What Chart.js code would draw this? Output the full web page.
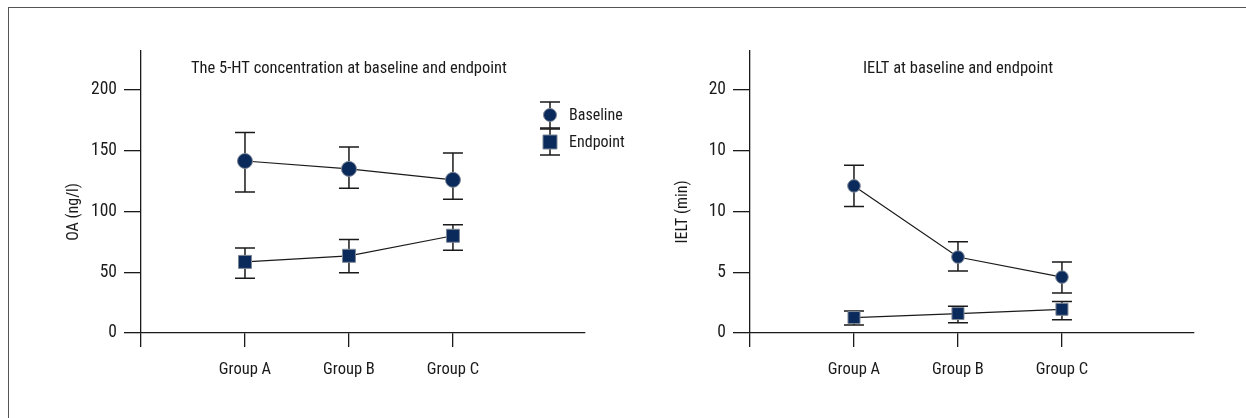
<!DOCTYPE html>
<html>
<head>
<meta charset="utf-8">
<script src="https://cdn.jsdelivr.net/npm/chart.js@4"></script>
<style>
    html, body { margin: 0; padding: 0; background: #fff; }
    #wrap { position: relative; width: 1246px; height: 418px; overflow: hidden; }
    #frame { position: absolute; left: 8px; top: 7px; width: 1400px; height: 600px;
             border-left: 1px solid #555; border-top: 1px solid #555; }
    .box { position: absolute; top: 0; height: 418px; }
</style>
</head>
<body>
<div id="wrap">
    <div id="frame"></div>
    <div class="box" style="left:0;width:650px"><canvas id="grafico5ht" width="650" height="418"></canvas></div>
    <div class="box" style="left:650px;width:596px"><canvas id="graficoIelt" width="596" height="418"></canvas></div>
</div>
<script>
// categorias e posições no eixo x
const categories = ['Group A', 'Group B', 'Group C'];
const groupPos = [1, 2, 3];

// 5-HT (ng/l)
const htBaseline = [141.5, 135, 126];
const htBaselineLow = [116, 119, 110];
const htBaselineHigh = [165, 153, 148];
const htEndpoint = [58.5, 63.5, 80];
const htEndpointLow = [45, 49.5, 68];
const htEndpointHigh = [70, 77, 89];
const htTicks = [0, 50, 100, 150, 200];
const htTickLabels = ['0', '50', '100', '150', '200'];

// IELT (min)
const ieltBaseline = [12.1, 6.25, 4.6];
const ieltBaselineLow = [10.4, 5.1, 3.3];
const ieltBaselineHigh = [13.8, 7.5, 5.85];
const ieltEndpoint = [1.27, 1.6, 1.95];
const ieltEndpointLow = [0.65, 0.85, 1.1];
const ieltEndpointHigh = [1.8, 2.2, 2.6];
const ieltTicks = [0, 5, 10, 15, 20];
const ieltTickLabels = ['0', '5', '10', '10', '20'];

const FONT = "'Roboto Condensed', 'DejaVu Sans Condensed', sans-serif";
const INK = '#1a1a1a';
const NAVY = '#0b2a5c';
const EDGE = '#7d8796';

// barras de erro desenhadas antes dos pontos
const errorBars = {
    id: 'errorBars',
    beforeDatasetsDraw(chart) {
        const ctx = chart.ctx;
        const y = chart.scales.y;
        chart.data.datasets.forEach((ds, i) => {
            chart.getDatasetMeta(i).data.forEach((pt, j) => {
                const top = y.getPixelForValue(ds.errHigh[j]);
                const bot = y.getPixelForValue(ds.errLow[j]);
                ctx.save();
                ctx.strokeStyle = INK;
                ctx.lineWidth = 1.5;
                ctx.beginPath();
                ctx.moveTo(pt.x, top); ctx.lineTo(pt.x, bot);
                ctx.moveTo(pt.x - 10, top); ctx.lineTo(pt.x + 10, top);
                ctx.moveTo(pt.x - 10, bot); ctx.lineTo(pt.x + 10, bot);
                ctx.stroke();
                ctx.restore();
            });
        });
    }
};

// título, título do eixo y e legenda
const panelText = {
    id: 'panelText',
    afterDraw(chart, args, opts) {
        const ctx = chart.ctx;
        const area = chart.chartArea;
        const x = chart.scales.x;
        ctx.save();
        ctx.fillStyle = INK;
        ctx.textBaseline = 'middle';

        ctx.font = '16.5px ' + FONT;
        ctx.textAlign = 'center';
        ctx.fillText(opts.title, x.getPixelForValue(2), area.top + 18);

        ctx.save();
        ctx.font = '16px ' + FONT;
        ctx.translate(area.left - 67, (area.top + area.bottom) / 2 + 20);
        ctx.rotate(-Math.PI / 2);
        ctx.fillText(opts.yTitle, 0, 0);
        ctx.restore();

        if (opts.legend) {
            const cx = area.left + 409;
            const items = [
                { text: 'Baseline', style: 'circle', cy: area.top + 64 },
                { text: 'Endpoint', style: 'rect', cy: area.top + 91 }
            ];
            items.forEach(it => {
                ctx.strokeStyle = INK;
                ctx.lineWidth = 1.5;
                ctx.beginPath();
                ctx.moveTo(cx, it.cy - 13); ctx.lineTo(cx, it.cy + 13);
                ctx.moveTo(cx - 10, it.cy - 13); ctx.lineTo(cx + 10, it.cy - 13);
                ctx.moveTo(cx - 10, it.cy + 13); ctx.lineTo(cx + 10, it.cy + 13);
                ctx.stroke();
                ctx.fillStyle = NAVY;
                ctx.strokeStyle = EDGE;
                ctx.lineWidth = 1;
                ctx.beginPath();
                if (it.style === 'circle') {
                    ctx.arc(cx, it.cy, 6.5, 0, Math.PI * 2);
                } else {
                    ctx.rect(cx - 7, it.cy - 7, 14, 14);
                }
                ctx.fill();
                ctx.stroke();
                ctx.fillStyle = INK;
                ctx.textAlign = 'left';
                ctx.font = '16px ' + FONT;
                ctx.fillText(it.text, cx + 19, it.cy + 1);
            });
        }
        ctx.restore();
    }
};

function toPoints(values) {
    return values.map((v, i) => ({ x: groupPos[i], y: v }));
}

function serie(label, values, low, high, style, radius) {
    return {
        label: label,
        data: toPoints(values),
        errLow: low,
        errHigh: high,
        showLine: true,
        borderColor: INK,
        borderWidth: 1.2,
        pointStyle: style,
        pointRadius: radius,
        pointBackgroundColor: NAVY,
        pointBorderColor: EDGE,
        pointBorderWidth: 1
    };
}

function criarGrafico(id, cfg) {
    return new Chart(document.getElementById(id), {
        type: 'scatter',
        data: { datasets: cfg.datasets },
        plugins: [errorBars, panelText],
        options: {
            responsive: false,
            animation: false,
            layout: { padding: cfg.padding },
            plugins: {
                legend: { display: false },
                tooltip: { enabled: false },
                panelText: { title: cfg.title, yTitle: cfg.yTitle, legend: cfg.legend }
            },
            scales: {
                x: {
                    type: 'linear',
                    min: 0,
                    max: 4.27,
                    afterBuildTicks: s => { s.ticks = [0].concat(groupPos).map(v => ({ value: v })); },
                    afterFit: s => { s.height = 60; },
                    ticks: {
                        autoSkip: false,
                        maxRotation: 0,
                        padding: 13,
                        color: INK,
                        font: { family: FONT, size: 16.5 },
                        callback: v => v === 0 ? '' : categories[v - 1]
                    },
                    grid: { drawOnChartArea: false, drawTicks: true, tickLength: 14, color: INK, lineWidth: 1.3 },
                    border: { display: true, color: INK, width: 1.3 }
                },
                y: {
                    min: 0,
                    max: cfg.yMax,
                    afterBuildTicks: s => { s.ticks = cfg.ticks.map(v => ({ value: v })); },
                    afterFit: s => { s.width = 60; },
                    ticks: {
                        autoSkip: false,
                        padding: 7,
                        color: INK,
                        font: { family: FONT, size: 17.5 },
                        callback: (v, i) => cfg.tickLabels[i]
                    },
                    grid: { drawOnChartArea: false, drawTicks: true, tickLength: 17, color: INK, lineWidth: 1.3 },
                    border: { display: true, color: INK, width: 1.3 }
                }
            }
        }
    });
}

criarGrafico('grafico5ht', {
    title: 'The 5-HT concentration at baseline and endpoint',
    yTitle: 'OA (ng/l)',
    legend: true,
    yMax: 232,
    ticks: htTicks,
    tickLabels: htTickLabels,
    padding: { left: 81, top: 51, right: 65, bottom: 25 },
    datasets: [
        serie('Baseline', htBaseline, htBaselineLow, htBaselineHigh, 'circle', 7.5),
        serie('Endpoint', htEndpoint, htEndpointLow, htEndpointHigh, 'rect', 9.2)
    ]
});

criarGrafico('graficoIelt', {
    title: 'IELT at baseline and endpoint',
    yTitle: 'IELT (min)',
    legend: false,
    yMax: 23.2,
    ticks: ieltTicks,
    tickLabels: ieltTickLabels,
    padding: { left: 40, top: 51, right: 52, bottom: 25 },
    datasets: [
        serie('Baseline', ieltBaseline, ieltBaselineLow, ieltBaselineHigh, 'circle', 6.3),
        serie('Endpoint', ieltEndpoint, ieltEndpointLow, ieltEndpointHigh, 'rect', 8.5)
    ]
});
</script>
</body>
</html>
